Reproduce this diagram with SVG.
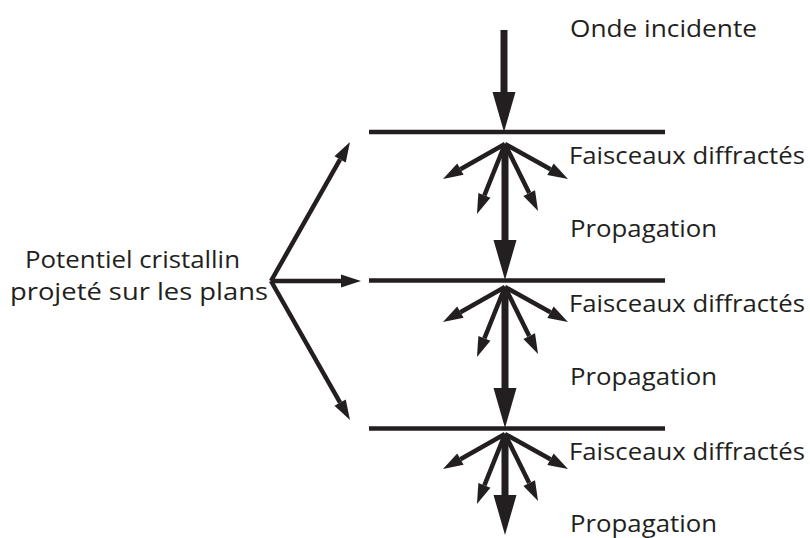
<svg xmlns="http://www.w3.org/2000/svg" width="810" height="538" viewBox="0 0 810 538">
<style>
text{font-family:"Open Sans","Noto Sans","Liberation Sans",sans-serif;font-size:23px;fill:#231f20}
.plane{stroke:#231f20;stroke-width:4.5;fill:none}
.thin{stroke:#231f20;stroke-width:4.5;fill:none;marker-end:url(#headS)}
.thick{stroke:#231f20;stroke-width:7;fill:none;marker-end:url(#headL)}
</style>
<defs>
<marker id="headS" markerUnits="userSpaceOnUse" viewBox="0 -7 21 14" refX="0" refY="0" markerWidth="21" markerHeight="14" orient="auto" overflow="visible">
<path d="M0,-6.5 L20,0 L0,6.5 z" fill="#231f20"/>
</marker>
<marker id="headL" markerUnits="userSpaceOnUse" viewBox="0 -12 42 24" refX="0" refY="0" markerWidth="42" markerHeight="24" orient="auto" overflow="visible">
<path d="M0,-11.5 L40,0 L0,11.5 z" fill="#231f20"/>
</marker>
<g id="fan">
<line class="thin" x1="0" y1="0" x2="-44.6" y2="25.2"/>
<line class="thin" x1="0" y1="0" x2="45.5" y2="25.3"/>
<line class="thin" x1="0" y1="0" x2="-20.6" y2="51.4"/>
<line class="thin" x1="0" y1="0" x2="24.2" y2="49.1"/>
</g>
</defs>
<g id="planes">
<line id="plane1" class="plane" x1="369" y1="132" x2="665" y2="132"/>
<line id="plane2" class="plane" x1="369" y1="280.5" x2="665" y2="280.5"/>
<line id="plane3" class="plane" x1="369" y1="428.5" x2="665" y2="428.5"/>
</g>
<g id="connectors">
<line class="thick" x1="504" y1="30" x2="504" y2="92"/>
<use href="#fan" x="505" y="144"/>
<line class="thick" x1="505" y1="144" x2="505" y2="240"/>
<use href="#fan" x="505" y="287"/>
<line class="thick" x1="505" y1="287" x2="505" y2="388"/>
<use href="#fan" x="505" y="434"/>
<line class="thick" x1="505" y1="434" x2="505" y2="495"/>
<line class="thin" x1="271" y1="281" x2="340.1" y2="159.4"/>
<line class="thin" x1="271" y1="281" x2="341" y2="281"/>
<line class="thin" x1="271" y1="281" x2="340.1" y2="402.6"/>
</g>
<g id="labels">
<text x="570" y="37" textLength="187" lengthAdjust="spacingAndGlyphs">Onde incidente</text>
<text x="569" y="163.5" textLength="236" lengthAdjust="spacingAndGlyphs">Faisceaux diffractés</text>
<text x="570" y="237" textLength="147" lengthAdjust="spacingAndGlyphs">Propagation</text>
<text x="569" y="311.5" textLength="236" lengthAdjust="spacingAndGlyphs">Faisceaux diffractés</text>
<text x="570" y="385" textLength="147" lengthAdjust="spacingAndGlyphs">Propagation</text>
<text x="569" y="459.5" textLength="236" lengthAdjust="spacingAndGlyphs">Faisceaux diffractés</text>
<text x="570" y="531.5" textLength="147" lengthAdjust="spacingAndGlyphs">Propagation</text>
<text x="25" y="268" textLength="215" lengthAdjust="spacingAndGlyphs">Potentiel cristallin</text>
<text x="10" y="300" textLength="258" lengthAdjust="spacingAndGlyphs">projeté sur les plans</text>
</g>
</svg>
